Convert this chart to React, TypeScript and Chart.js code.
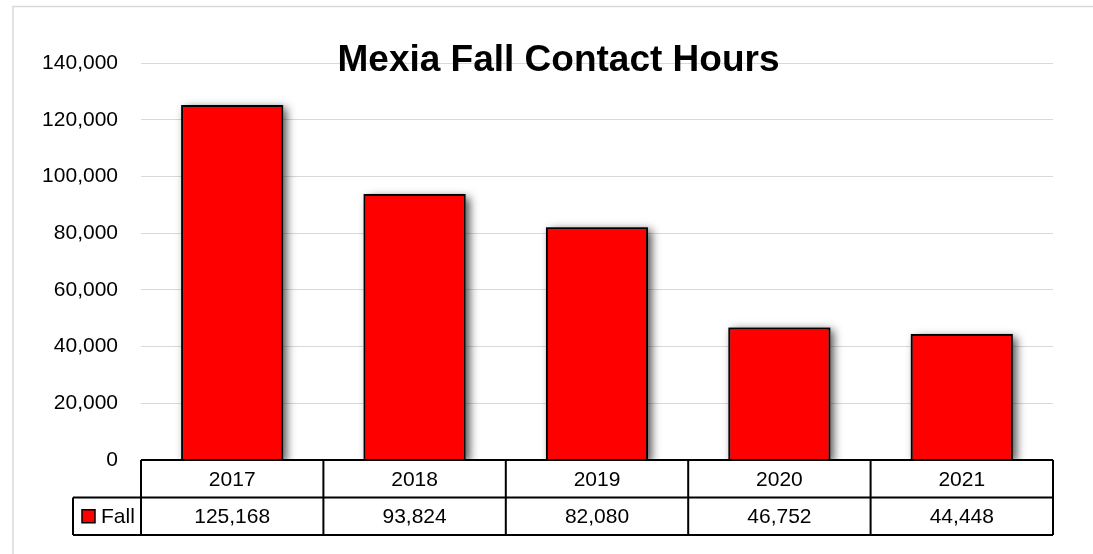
import React, { useEffect, useRef } from 'react';
import { Chart, registerables } from 'chart.js';

Chart.register(...registerables);

const years: string[] = ['2017', '2018', '2019', '2020', '2021'];
const fallValues: number[] = [125168, 93824, 82080, 46752, 44448];
const seriesName = 'Fall';
const chartTitle = 'Mexia Fall Contact Hours';
const yMin = 0;
const yMax = 140000;
const yStep = 20000;

const FONT = '"Liberation Sans", Arial, sans-serif';
const fmt = (v: number) => Number(v).toLocaleString('en-US');

const decorPlugin = {
  id: 'decor',
  beforeDraw(chart: any) {
    const ctx = chart.ctx;
    ctx.save();
    ctx.fillStyle = '#ffffff';
    ctx.fillRect(0, 0, chart.width, chart.height);
    ctx.strokeStyle = '#d9d9d9';
    ctx.lineWidth = 1.5;
    ctx.beginPath();
    ctx.moveTo(13, chart.height + 5);
    ctx.lineTo(13, 6.5);
    ctx.lineTo(chart.width + 5, 6.5);
    ctx.stroke();
    ctx.restore();
  },
  beforeDatasetsDraw(chart: any) {
    const ctx = chart.ctx;
    const area = chart.chartArea;
    const meta = chart.getDatasetMeta(0);
    ctx.save();
    ctx.beginPath();
    ctx.rect(area.left, 0, area.right - area.left + 20, area.bottom);
    ctx.clip();
    ctx.shadowColor = 'rgba(0,0,0,0.7)';
    ctx.shadowBlur = 9;
    ctx.shadowOffsetX = 4;
    ctx.shadowOffsetY = 3;
    ctx.fillStyle = '#808080';
    meta.data.forEach((bar: any) => {
      const p = bar.getProps(['x', 'y', 'base', 'width'], true);
      ctx.fillRect(p.x - p.width / 2, p.y, p.width, p.base - p.y);
    });
    ctx.restore();
  },
  afterDraw(chart: any) {
    const ctx = chart.ctx;
    const area = chart.chartArea;
    const xs = chart.scales.x;
    const n = years.length;
    const half = (xs.getPixelForValue(1) - xs.getPixelForValue(0)) / 2;
    const rowH = 37.5;
    const top = area.bottom;
    const mid = top + rowH;
    const bot = mid + rowH;
    const legLeft = area.left - 68;

    ctx.save();
    ctx.fillStyle = '#ffffff';
    ctx.fillRect(area.left, top, area.right - area.left, bot - top);
    ctx.fillRect(legLeft, mid, area.left - legLeft, bot - mid);

    ctx.strokeStyle = '#000000';
    ctx.lineWidth = 2;
    ctx.beginPath();
    ctx.moveTo(area.left, top);
    ctx.lineTo(area.right, top);
    ctx.moveTo(legLeft, mid);
    ctx.lineTo(area.right, mid);
    ctx.moveTo(legLeft, bot);
    ctx.lineTo(area.right, bot);
    ctx.moveTo(legLeft, mid);
    ctx.lineTo(legLeft, bot);
    ctx.moveTo(area.left, top);
    ctx.lineTo(area.left, bot);
    for (let i = 0; i < n; i++) {
      const xr = xs.getPixelForValue(i) + half;
      ctx.moveTo(xr, top);
      ctx.lineTo(xr, bot);
    }
    ctx.stroke();

    ctx.fillStyle = '#000000';
    ctx.font = `21px ${FONT}`;
    ctx.textAlign = 'center';
    ctx.textBaseline = 'middle';
    for (let i = 0; i < n; i++) {
      const cx = xs.getPixelForValue(i);
      ctx.fillText(years[i], cx, (top + mid) / 2 + 1);
      ctx.fillText(fmt(fallValues[i]), cx, (mid + bot) / 2 + 1);
    }

    const ky = (mid + bot) / 2;
    ctx.fillStyle = '#ff0000';
    ctx.fillRect(legLeft + 9, ky - 6.5, 13, 13);
    ctx.lineWidth = 1.5;
    ctx.strokeRect(legLeft + 9, ky - 6.5, 13, 13);
    ctx.fillStyle = '#000000';
    ctx.textAlign = 'left';
    ctx.fillText(seriesName, legLeft + 28, ky + 1);

    ctx.font = `bold 37px ${FONT}`;
    ctx.textAlign = 'center';
    ctx.textBaseline = 'alphabetic';
    ctx.fillText(chartTitle, 558.5, 70.5);
    ctx.restore();
  },
};

export default function App() {
  const ref = useRef<HTMLCanvasElement | null>(null);

  useEffect(() => {
    document.body.style.margin = '0';
    const canvas = ref.current;
    if (!canvas) return;
    const chart = new Chart(canvas, {
      type: 'bar',
      data: {
        labels: years,
        datasets: [
          {
            label: seriesName,
            data: fallValues,
            backgroundColor: '#ff0000',
            borderColor: '#000000',
            borderWidth: 2,
            barPercentage: 0.56,
            categoryPercentage: 1,
          },
        ],
      },
      options: {
        responsive: false,
        animation: false,
        devicePixelRatio: 1,
        layout: { padding: { left: 0, top: 63, right: 40, bottom: 94 } },
        plugins: {
          legend: { display: false },
          title: { display: false },
          tooltip: { enabled: false },
        },
        scales: {
          x: { display: false },
          y: {
            min: yMin,
            max: yMax,
            ticks: {
              stepSize: yStep,
              callback: (v: any) => fmt(v),
              font: { family: FONT, size: 21 },
              color: '#000000',
              padding: 23,
            },
            grid: { color: '#d9d9d9', lineWidth: 1, drawTicks: false },
            border: { display: false },
            afterFit(scale: any) {
              scale.width = 141;
            },
          },
        },
      },
      plugins: [decorPlugin],
    });
    return () => chart.destroy();
  }, []);

  return (
    <div style={{ position: 'absolute', left: 0, top: 0, width: 1093, height: 554 }}>
      <canvas ref={ref} width={1093} height={554} style={{ display: 'block', width: 1093, height: 554 }} />
    </div>
  );
}
